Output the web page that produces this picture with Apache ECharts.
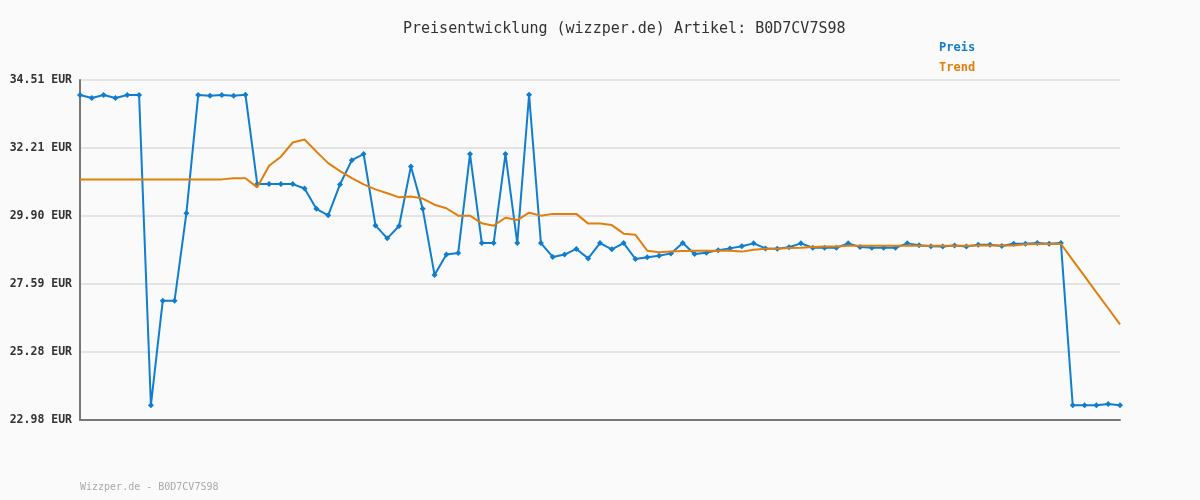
<!DOCTYPE html>
<html>
<head>
<meta charset="utf-8">
<script src="https://cdn.jsdelivr.net/npm/echarts@6/dist/echarts.min.js"></script>
<style>
  html, body { margin: 0; padding: 0; background: #fafafa; }
  #chart { width: 1200px; height: 500px; }
</style>
</head>
<body>
<div id="chart"></div>
<script>
const titleText = 'Preisentwicklung (wizzper.de) Artikel: B0D7CV7S98';
const footerText = 'Wizzper.de - B0D7CV7S98';
const seriesNames = ['Preis', 'Trend'];

const preis = [
  34.00, 33.90, 34.00, 33.90, 34.00, 34.00, 23.48, 27.02, 27.02, 29.99,
  34.00, 33.98, 34.00, 33.98, 34.01, 30.98, 30.98, 30.98, 30.98, 30.83,
  30.14, 29.92, 30.97, 31.79, 32.00, 29.58, 29.14, 29.56, 31.58, 30.14,
  27.90, 28.59, 28.64, 32.00, 28.98, 28.98, 32.00, 28.98, 34.01, 28.98,
  28.51, 28.59, 28.78, 28.46, 28.98, 28.77, 28.98, 28.44, 28.50, 28.55,
  28.63, 28.98, 28.61, 28.65, 28.74, 28.80, 28.87, 28.97, 28.80, 28.79,
  28.84, 28.97, 28.82, 28.82, 28.82, 28.97, 28.85, 28.82, 28.82, 28.82,
  28.97, 28.91, 28.87, 28.86, 28.90, 28.86, 28.92, 28.92, 28.88, 28.96,
  28.96, 28.98, 28.96, 28.98, 23.48, 23.48, 23.48, 23.52, 23.48
];

const trend = [
  31.14, 31.14, 31.14, 31.14, 31.14, 31.14, 31.14, 31.14, 31.14, 31.14,
  31.14, 31.14, 31.14, 31.18, 31.18, 30.87, 31.60, 31.91, 32.39, 32.49,
  32.08, 31.69, 31.42, 31.18, 30.97, 30.80, 30.67, 30.53, 30.56, 30.49,
  30.28, 30.16, 29.91, 29.91, 29.65, 29.57, 29.84, 29.76, 30.01, 29.91,
  29.97, 29.97, 29.97, 29.64, 29.64, 29.59, 29.30, 29.26, 28.72, 28.67,
  28.69, 28.71, 28.72, 28.72, 28.72, 28.72, 28.69, 28.75, 28.79, 28.79,
  28.81, 28.82, 28.85, 28.86, 28.86, 28.89, 28.89, 28.89, 28.89, 28.89,
  28.89, 28.89, 28.89, 28.89, 28.89, 28.89, 28.90, 28.90, 28.90, 28.90,
  28.94, 28.95, 28.95, 28.95, 28.40, 27.86, 27.31, 26.77, 26.22
];

const categories = preis.map((_, i) => String(i + 1));

const yTickLabels = ['22.98 EUR', '25.28 EUR', '27.59 EUR', '29.90 EUR', '32.21 EUR', '34.51 EUR'];
const yMin = 22.98;
const yMax = 34.51;

const yInterval = (yMax - yMin) / (yTickLabels.length - 1);
const mono = '"DejaVu Sans Mono", "Liberation Mono", monospace';
const blue = '#0f7dd0';
const orange = '#e27f0c';

const chart = echarts.init(document.getElementById('chart'));
chart.setOption({
  backgroundColor: '#fafafa',
  animation: false,
  title: [
    {
      text: titleText,
      left: 403,
      top: 22,
      padding: 0,
      textStyle: { fontFamily: mono, fontSize: 15, fontWeight: 'normal', color: '#333' }
    },
    {
      text: footerText,
      left: 80,
      top: 482,
      padding: 0,
      textStyle: { fontFamily: mono, fontSize: 10, fontWeight: 'normal', color: '#aaaaaa' }
    }
  ],
  legend: {
    orient: 'vertical',
    left: 929,
    top: 37,
    itemGap: 8,
    itemWidth: 0,
    itemHeight: 0,
    icon: 'none',
    selectedMode: false,
    data: [
      { name: seriesNames[0], textStyle: { color: blue } },
      { name: seriesNames[1], textStyle: { color: orange } }
    ],
    textStyle: { fontFamily: mono, fontSize: 12, fontWeight: 'bold' }
  },
  grid: { left: 80, right: 80, top: 80, bottom: 80 },
  xAxis: {
    type: 'category',
    data: categories,
    boundaryGap: false,
    axisLine: { show: true, lineStyle: { color: '#777', width: 2 } },
    axisTick: { show: false },
    axisLabel: { show: false },
    splitLine: { show: false }
  },
  yAxis: {
    type: 'value',
    min: yMin,
    max: yMax,
    interval: yInterval,
    axisLine: { show: true, lineStyle: { color: '#777', width: 2 } },
    axisTick: { show: false },
    axisLabel: {
      fontFamily: mono,
      fontSize: 11.5,
      fontWeight: 'bold',
      color: '#333',
      margin: 8,
      formatter: function (v) {
        const i = Math.round((v - yMin) / yInterval);
        return yTickLabels[i] !== undefined ? yTickLabels[i] : '';
      }
    },
    splitLine: { show: true, lineStyle: { color: '#e4e4e4', width: 2 } }
  },
  series: [
    {
      name: seriesNames[0],
      type: 'line',
      data: preis,
      symbol: 'diamond',
      symbolSize: 6,
      showAllSymbol: true,
      lineStyle: { color: blue, width: 2 },
      itemStyle: { color: blue },
      z: 2
    },
    {
      name: seriesNames[1],
      type: 'line',
      data: trend,
      symbol: 'none',
      lineStyle: { color: orange, width: 2 },
      itemStyle: { color: orange },
      z: 3
    }
  ]
});
</script>
</body>
</html>
